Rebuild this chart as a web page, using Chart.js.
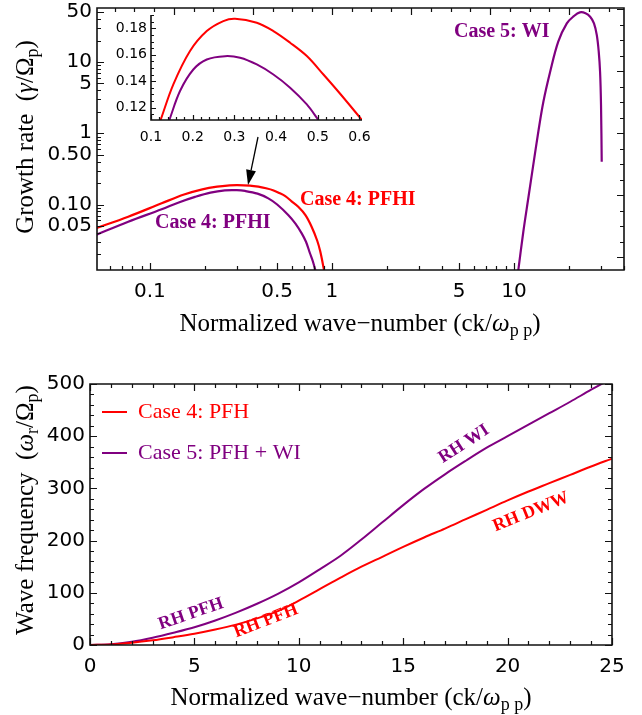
<!DOCTYPE html>
<html>
<head>
<meta charset="utf-8">
<script src="https://cdn.jsdelivr.net/npm/chart.js@4.4.0/dist/chart.umd.min.js"></script>
<style>
body { margin: 0; background: #fff; width: 642px; height: 715px; position: relative; overflow: hidden; }
canvas { position: absolute; }
</style>
</head>
<body>
<canvas id="growth" width="642" height="340" style="left:0;top:0"></canvas>
<canvas id="inset" width="275" height="135" style="left:100px;top:10px"></canvas>
<canvas id="growthFrame" width="642" height="340" style="left:0;top:0"></canvas>
<canvas id="freq" width="642" height="375" style="left:0;top:340px"></canvas>
<script>
const RED = '#ff0000', PURPLE = '#800080';

// growth rate, log-log panel
const pfhiRedK = [0.05, 0.076, 0.116, 0.154, 0.194, 0.234, 0.274, 0.302, 0.354, 0.394, 0.434, 0.474, 0.514, 0.554, 0.6, 0.653, 0.715, 0.773, 0.83, 0.862, 0.905];
const pfhiRedGamma = [0.046, 0.0674, 0.104, 0.138, 0.163, 0.178, 0.1856, 0.1874, 0.1843, 0.178, 0.169, 0.159, 0.145, 0.131, 0.111, 0.093, 0.071, 0.0488, 0.031, 0.022, 0.012];
const pfhiPurpleK = [0.05, 0.076, 0.116, 0.144, 0.177, 0.215, 0.258, 0.3, 0.333, 0.39, 0.447, 0.5, 0.575, 0.63, 0.682, 0.72, 0.757, 0.785, 0.81];
const pfhiPurpleGamma = [0.037, 0.0574, 0.0857, 0.107, 0.128, 0.147, 0.158, 0.159, 0.155, 0.142, 0.122, 0.1, 0.0713, 0.054, 0.0394, 0.03, 0.0207, 0.016, 0.012];
const wiK = [10.56, 11.25, 11.98, 12.76, 13.6, 14.5, 15.8, 17.5, 19.5, 21.3, 23.0, 24.7, 26.2, 27.5, 28.5, 29.2, 29.7, 30.06, 30.33];
const wiGamma = [0.012, 0.0415, 0.1225, 0.36, 1.05, 2.77, 7.31, 19.3, 34.9, 44, 49.8, 48.5, 43.3, 35, 23.9, 14, 7.31, 2.49, 0.399];

// inset (zoom on the PFHI peak)
const insetRedK = [0.123, 0.1536, 0.1936, 0.2337, 0.2735, 0.3016, 0.3537, 0.3935, 0.4336, 0.4737, 0.5135, 0.5536, 0.606];
const insetRedGamma = [0.1106, 0.1376, 0.1629, 0.178, 0.1856, 0.1874, 0.1843, 0.178, 0.1692, 0.1591, 0.1451, 0.1305, 0.1106];
const insetPurpleK = [0.144, 0.1696, 0.2015, 0.2337, 0.2776, 0.3136, 0.3537, 0.3935, 0.4336, 0.4737, 0.5015];
const insetPurpleGamma = [0.1106, 0.1326, 0.1489, 0.1565, 0.159, 0.1578, 0.1527, 0.1451, 0.1351, 0.1224, 0.1106];

// wave frequency panel
const freqK = [0, 1, 2, 3, 4, 5, 6, 7, 8, 9, 10, 11, 12, 13, 14, 15, 16, 17, 18, 19, 20, 21, 22, 23, 24, 25];
const freqCase4 = [0, 1.1, 4.3, 9, 15, 21.5, 29.5, 39, 51, 65, 85, 107, 129, 150, 169, 188, 206, 223, 241, 259, 277, 294, 310, 326, 342, 357];
const freqCase5 = [0, 1.5, 6.3, 14, 23.5, 34, 47, 62, 79, 98, 120, 145, 171, 202, 235, 268, 299, 327, 353, 378, 400, 422, 444, 466, 489, 511];

// tick labels
const growthXTicks = [0.1, 0.5, 1, 5, 10];
const growthXLabels = ['0.1', '0.5', '1', '5', '10'];
const growthYTicks = [0.05, 0.1, 0.5, 1, 5, 10, 50];
const growthYLabels = ['0.05', '0.10', '0.50', '1', '5', '10', '50'];
const insetXTicks = [0.1, 0.2, 0.3, 0.4, 0.5, 0.6];
const insetXLabels = ['0.1', '0.2', '0.3', '0.4', '0.5', '0.6'];
const insetYTicks = [0.12, 0.14, 0.16, 0.18];
const insetYLabels = ['0.12', '0.14', '0.16', '0.18'];
const freqXTicks = [0, 5, 10, 15, 20, 25];
const freqXLabels = ['0', '5', '10', '15', '20', '25'];
const freqYTicks = [0, 100, 200, 300, 400, 500];
const freqYLabels = ['0', '100', '200', '300', '400', '500'];

const pts = (xs, ys) => xs.map((x, i) => ({ x: x, y: ys[i] }));

function line(label, xs, ys, color, w) {
  return { label: label, data: pts(xs, ys), borderColor: color, backgroundColor: color,
    borderWidth: w, pointRadius: 0, fill: false, tension: 0.35 };
}

// fixed axis box sizes, no extra room for overhanging labels
function axis(type, min, max, ticks, labels, size, pad, box) {
  return {
    type: type, min: min, max: max,
    grid: { display: false, drawTicks: false },
    border: { display: false },
    afterBuildTicks: s => { s.ticks = ticks.map(v => ({ value: v })); },
    ticks: { autoSkip: false, maxRotation: 0, minRotation: 0, padding: pad, color: '#000',
      font: { family: 'DejaVu Sans', size: size }, callback: (v, i) => labels[i] },
    afterFit: s => {
      if (s.isHorizontal()) { s.height = box; s.paddingLeft = 0; s.paddingRight = 0; }
      else { s.width = box; s.paddingTop = 0; s.paddingBottom = 0; }
    }
  };
}

function logMinors(lo, hi, majors) {
  const out = [];
  for (let d = -3; d <= 3; d++) for (let m = 1; m <= 9; m++) {
    const v = +(m * Math.pow(10, d)).toPrecision(6);
    if (v >= lo && v <= hi && !majors.some(t => Math.abs(t - v) < 1e-9)) out.push(v);
  }
  return out;
}
function lnTicks(lo, hi, step, every) {
  const major = [], minor = [];
  for (let n = Math.ceil(Math.log(lo) / step); n <= Math.floor(Math.log(hi) / step); n++) {
    (n % every === 0 ? major : minor).push(Math.exp(n * step));
  }
  return { major: major, minor: minor };
}
function linMinors(lo, hi, step, majorStep) {
  const out = [];
  for (let v = lo; v <= hi + 1e-9; v += step) {
    const r = +v.toFixed(6);
    if (Math.abs(r / majorStep - Math.round(r / majorStep)) > 1e-6) out.push(r);
  }
  return out;
}

// frame + inward ticks; edges taken from the scales
function drawFrame(ctx, chart, cfg) {
  const sx = chart.scales.x, sy = chart.scales.y;
  const px = v => sx.getPixelForValue(v), py = v => sy.getPixelForValue(v);
  const L = Math.round(px(cfg.x[0])), R = Math.round(px(cfg.x[1]));
  const T = Math.round(py(cfg.y[1])), B = Math.round(py(cfg.y[0]));
  ctx.save();
  ctx.strokeStyle = '#111';
  ctx.lineWidth = 1.6;
  ctx.beginPath();
  if (cfg.frame) {
    ctx.moveTo(L, T); ctx.lineTo(R, T); ctx.lineTo(R, B); ctx.lineTo(L, B); ctx.closePath();
  } else {
    ctx.moveTo(L, T); ctx.lineTo(L, B); ctx.lineTo(R, B);
  }
  ctx.stroke();
  ctx.lineWidth = 1.2;
  ctx.beginPath();
  cfg.sides.forEach(sd => {
    const vert = sd.side === 'left' || sd.side === 'right';
    const lo = vert ? cfg.y[0] : cfg.x[0], hi = vert ? cfg.y[1] : cfg.x[1];
    const put = (vals, len) => vals.forEach(v => {
      if (v < lo * 0.999999 || v > hi * 1.000001) return;
      const p = Math.round(vert ? py(v) : px(v)) + 0.5;
      if (!isFinite(p)) return;
      if (sd.side === 'bottom') { ctx.moveTo(p, B); ctx.lineTo(p, B - len); }
      if (sd.side === 'top') { ctx.moveTo(p, T); ctx.lineTo(p, T + len); }
      if (sd.side === 'left') { ctx.moveTo(L, p); ctx.lineTo(L + len, p); }
      if (sd.side === 'right') { ctx.moveTo(R, p); ctx.lineTo(R - len, p); }
    });
    put(sd.major, cfg.len[0]);
    put(sd.minor, cfg.len[1]);
  });
  ctx.stroke();
  ctx.restore();
}

function richText(ctx, parts, cx, cy, rot, size, color) {
  ctx.save();
  ctx.translate(cx, cy);
  ctx.rotate(rot);
  ctx.fillStyle = color;
  ctx.textBaseline = 'alphabetic';
  ctx.textAlign = 'left';
  const font = p => (p.i ? 'italic ' : '') + (p.sub ? Math.round(size * 0.7) : size) + 'px "Liberation Serif"';
  let w = 0;
  parts.forEach(p => { ctx.font = font(p); w += ctx.measureText(p.t).width; });
  let x = -w / 2;
  parts.forEach(p => {
    ctx.font = font(p);
    ctx.fillText(p.t, x, p.sub ? size * 0.2 : 0);
    x += ctx.measureText(p.t).width;
  });
  ctx.restore();
}

function label(ctx, text, x, y, color, font, angle) {
  ctx.save();
  ctx.translate(x, y);
  ctx.rotate((angle || 0) * Math.PI / 180);
  ctx.font = font;
  ctx.fillStyle = color;
  ctx.textBaseline = 'middle';
  ctx.textAlign = angle ? 'center' : 'left';
  ctx.fillText(text, 0, 0);
  ctx.restore();
}

const kTitle = [{ t: 'Normalized wave\u2212number (ck/' }, { t: '\u03c9', i: true }, { t: 'p p', sub: true }, { t: ')' }];

const gx = [0.0512, 40.2], gy = [0.01205, 57.3];
const topX = lnTicks(gx[0], gx[1], 0.25, 4), rightY = lnTicks(gy[0], gy[1], 0.5, 4);

const growthFrame = { frame: true, len: [7, 4], x: gx, y: gy, sides: [
  { side: 'bottom', major: growthXTicks, minor: logMinors(gx[0], gx[1], growthXTicks) },
  { side: 'left', major: growthYTicks, minor: logMinors(gy[0], gy[1], growthYTicks) },
  { side: 'top', major: topX.major, minor: topX.minor },
  { side: 'right', major: rightY.major, minor: rightY.minor }
] };
const insetFrame = { frame: false, len: [5, 3], x: [0.1, 0.606], y: [0.1106, 0.1902], sides: [
  { side: 'bottom', major: insetXTicks, minor: linMinors(0.1, 0.6, 0.02, 0.1) },
  { side: 'left', major: insetYTicks, minor: linMinors(0.115, 0.19, 0.005, 0.02) }
] };
const freqFrame = { frame: true, len: [7, 4], x: [0, 25], y: [0, 500], sides: [
  { side: 'bottom', major: freqXTicks, minor: linMinors(0, 25, 1, 5) },
  { side: 'top', major: freqXTicks, minor: linMinors(0, 25, 1, 5) },
  { side: 'left', major: freqYTicks, minor: linMinors(0, 500, 20, 100) },
  { side: 'right', major: freqYTicks, minor: linMinors(0, 500, 20, 100) }
] };

const growthDeco = {
  id: 'growthDeco',
  afterDraw(chart) {
    const ctx = chart.ctx;
    richText(ctx, kTitle, 360, 331, 0, 25, '#000');
    richText(ctx, [{ t: 'Growth rate  (' }, { t: '\u03b3', i: true }, { t: '/\u03a9' }, { t: 'p', sub: true }, { t: ')' }],
      33, 137, -Math.PI / 2, 25, '#000');
    const bold = 'bold 20px "Liberation Serif"';
    label(ctx, 'Case 4: PFHI', 300, 200, RED, bold);
    label(ctx, 'Case 4: PFHI', 155, 223, PURPLE, bold);
    label(ctx, 'Case 5: WI', 454, 32, PURPLE, bold);
    // arrow from the inset to the peak
    const sx = 258, sy = 137, tx = 248, ty = 185, hl = 15, hw = 5;
    const ang = Math.atan2(ty - sy, tx - sx);
    const bx = tx - hl * Math.cos(ang), by = ty - hl * Math.sin(ang);
    ctx.save();
    ctx.strokeStyle = '#000'; ctx.fillStyle = '#000'; ctx.lineWidth = 1.3;
    ctx.beginPath(); ctx.moveTo(sx, sy); ctx.lineTo(bx, by); ctx.stroke();
    ctx.beginPath(); ctx.moveTo(tx, ty);
    ctx.lineTo(bx + hw * Math.sin(ang), by - hw * Math.cos(ang));
    ctx.lineTo(bx - hw * Math.sin(ang), by + hw * Math.cos(ang));
    ctx.closePath(); ctx.fill();
    ctx.restore();
  }
};

const insetDeco = {
  id: 'insetDeco',
  afterDraw(chart) { drawFrame(chart.ctx, chart, insetFrame); }
};

const freqDeco = {
  id: 'freqDeco',
  afterDraw(chart) {
    const ctx = chart.ctx;
    drawFrame(ctx, chart, freqFrame);
    richText(ctx, kTitle, 351, 365, 0, 25, '#000');
    richText(ctx, [{ t: 'Wave frequency  (' }, { t: '\u03c9', i: true }, { t: 'r', sub: true }, { t: '/\u03a9' }, { t: 'p', sub: true }, { t: ')' }],
      33, 170, -Math.PI / 2, 25, '#000');
    // legend
    chart.data.datasets.forEach((ds, i) => {
      const y = 72 + i * 41;
      ctx.save();
      ctx.strokeStyle = ds.borderColor; ctx.lineWidth = 2;
      ctx.beginPath(); ctx.moveTo(102, y); ctx.lineTo(127, y); ctx.stroke();
      ctx.restore();
      label(ctx, ds.label, 138, y, ds.borderColor, '22px "Liberation Serif"');
    });
    const bold = 'bold 18px "Liberation Serif"';
    label(ctx, 'RH PFH', 191, 274, PURPLE, bold, -19);
    label(ctx, 'RH PFH', 266, 281, RED, bold, -21);
    label(ctx, 'RH WI', 464, 104, PURPLE, bold, -33);
    label(ctx, 'RH DWW', 531, 172, RED, bold, -22);
  }
};

const common = { responsive: false, animation: false, devicePixelRatio: 1,
  plugins: { legend: { display: false }, tooltip: { enabled: false } } };

// top: growth rate
const growthChart = new Chart(document.getElementById('growth'), {
  type: 'line',
  data: { datasets: [
    line('Case 4: PFHI', pfhiRedK, pfhiRedGamma, RED, 2.2),
    line('Case 4: PFHI', pfhiPurpleK, pfhiPurpleGamma, PURPLE, 2.2),
    line('Case 5: WI', wiK, wiGamma, PURPLE, 2.2)
  ] },
  options: Object.assign({}, common, {
    layout: { padding: { top: 8, right: 18, left: 0, bottom: 0 } },
    scales: {
      x: axis('logarithmic', gx[0], gx[1], growthXTicks, growthXLabels, 20, 10, 70),
      y: axis('logarithmic', gy[0], gy[1], growthYTicks, growthYLabels, 20, 5, 97)
    }
  }),
  plugins: [growthDeco]
});
drawFrame(document.getElementById('growthFrame').getContext('2d'), growthChart, growthFrame);

// inset
new Chart(document.getElementById('inset'), {
  type: 'line',
  data: { datasets: [
    line('Case 4', insetRedK, insetRedGamma, RED, 2),
    line('Case 5', insetPurpleK, insetPurpleGamma, PURPLE, 2)
  ] },
  options: Object.assign({}, common, {
    layout: { padding: { top: 5, right: 13, left: 0, bottom: 0 } },
    scales: {
      x: axis('linear', 0.1, 0.606, insetXTicks, insetXLabels, 14, 9, 25),
      y: axis('linear', 0.1106, 0.1902, insetYTicks, insetYLabels, 14, 4, 51)
    }
  }),
  plugins: [insetDeco]
});

// bottom: wave frequency
new Chart(document.getElementById('freq'), {
  type: 'line',
  data: { datasets: [
    line('Case 4: PFH', freqK, freqCase4, RED, 2),
    line('Case 5: PFH + WI', freqK, freqCase5, PURPLE, 2)
  ] },
  options: Object.assign({}, common, {
    layout: { padding: { top: 44, right: 30, left: 0, bottom: 0 } },
    scales: {
      x: axis('linear', 0, 25, freqXTicks, freqXLabels, 20, 10, 70),
      y: axis('linear', 0, 500, freqYTicks, freqYLabels, 20, 5, 90)
    }
  }),
  plugins: [freqDeco]
});
</script>
</body>
</html>
